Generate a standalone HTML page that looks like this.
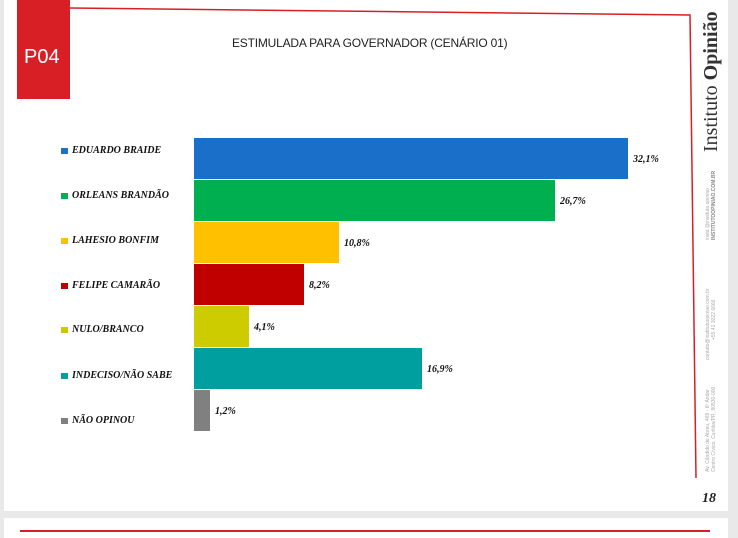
<!DOCTYPE html>
<html><head><meta charset="utf-8"><style>
body{margin:0;width:738px;height:533px;background:#e9e9e9;position:relative;overflow:hidden;font-family:"Liberation Sans",sans-serif}
.page{position:absolute;left:4px;top:0;width:724px;height:511px;background:#fff}
.page2{position:absolute;left:4px;top:518px;width:724px;height:20px;background:#fff}
.abs{position:absolute}
.lab{position:absolute;left:72px;font:bold italic 10px "Liberation Serif",serif;color:#111}
.sq{position:absolute;left:61px;width:7px;height:6px}
.bar{position:absolute;left:194px;height:41px}
.val{position:absolute;font:bold italic 10px "Liberation Serif",serif;color:#111}
.ft{position:absolute;transform-origin:0 0;transform:rotate(-90deg);font:5px "Liberation Sans",sans-serif;color:#aaa;white-space:nowrap}
</style></head><body>
<div class="page"></div><div class="page2"></div>
<div class="abs" style="left:20px;top:530px;width:690px;height:2px;background:#d62028"></div>
<svg class="abs" style="left:0;top:0" width="738" height="533"><polyline points="70,8 690,15 696,478" fill="none" stroke="#d62028" stroke-width="1.5"/></svg>
<div class="abs" style="left:17px;top:0;width:53px;height:99px;background:#d91f26"></div>
<div class="abs" style="left:24px;top:46px;color:#fff;font-size:20px">P04</div>
<div class="abs" style="left:232px;top:36px;font-size:12px;color:#222;letter-spacing:-0.2px">ESTIMULADA PARA GOVERNADOR (CENÁRIO 01)</div>
<div class="abs" style="left:700px;top:152px;transform-origin:0 0;transform:rotate(-90deg);font:20px 'Liberation Serif',serif;color:#333;white-space:nowrap">Instituto <b>Opinião</b></div>
<div class="ft" style="left:705px;top:240px">insta @instituto.opiniao</div>
<div class="ft" style="left:711px;top:240px;font-weight:bold;color:#888">INSTITUTOOPINIAO.COM.BR</div>
<div class="ft" style="left:705px;top:360px">contato@institutoopiniao.com.br</div>
<div class="ft" style="left:711px;top:340px">+55 41 3022 6666</div>
<div class="ft" style="left:705px;top:472px">Av. Cândido de Abreu, 469 - 6º Andar</div>
<div class="ft" style="left:711px;top:472px">Centro Cívico, Curitiba/PR, 80530-000</div>
<div class="abs" style="left:702px;top:491px;font:bold italic 14px 'Liberation Serif',serif;color:#222">18</div>

<div class="sq" style="top:148px;background:#1f6fc5"></div><div class="lab" style="top:145px">EDUARDO BRAIDE</div>
<div class="bar" style="top:138px;width:434px;background:#1a6fc9"></div><div class="val" style="left:633px;top:154px">32,1%</div>
<div class="sq" style="top:193px;background:#00b050"></div><div class="lab" style="top:190px">ORLEANS BRANDÃO</div>
<div class="bar" style="top:180px;width:361px;background:#00b050"></div><div class="val" style="left:560px;top:196px">26,7%</div>
<div class="sq" style="top:238px;background:#ffc000"></div><div class="lab" style="top:235px">LAHESIO BONFIM</div>
<div class="bar" style="top:222px;width:145px;background:#ffc000"></div><div class="val" style="left:344px;top:238px">10,8%</div>
<div class="sq" style="top:283px;background:#c00000"></div><div class="lab" style="top:280px">FELIPE CAMARÃO</div>
<div class="bar" style="top:264px;width:110px;background:#c00000"></div><div class="val" style="left:309px;top:280px">8,2%</div>
<div class="sq" style="top:327px;background:#c9c900"></div><div class="lab" style="top:324px">NULO/BRANCO</div>
<div class="bar" style="top:306px;width:55px;background:#cccc00"></div><div class="val" style="left:254px;top:322px">4,1%</div>
<div class="sq" style="top:373px;background:#00a0a0"></div><div class="lab" style="top:370px">INDECISO/NÃO SABE</div>
<div class="bar" style="top:348px;width:228px;background:#009f9f"></div><div class="val" style="left:427px;top:364px">16,9%</div>
<div class="sq" style="top:418px;background:#808080"></div><div class="lab" style="top:415px">NÃO OPINOU</div>
<div class="bar" style="top:390px;width:16px;background:#808080"></div><div class="val" style="left:215px;top:406px">1,2%</div>
</body></html>
